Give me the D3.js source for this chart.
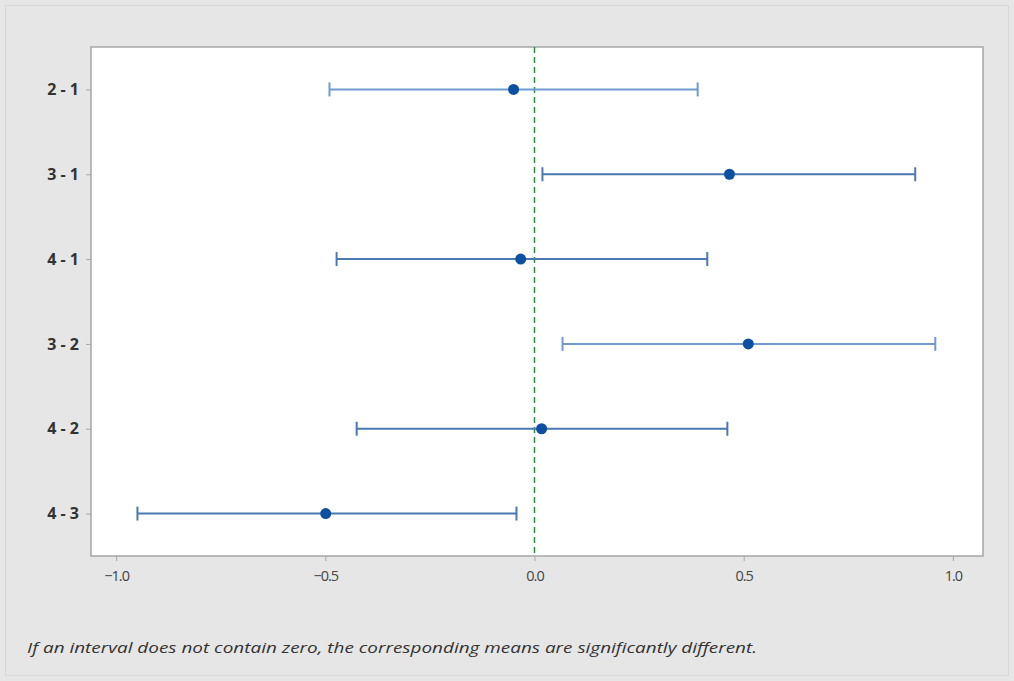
<!DOCTYPE html>
<html><head><meta charset="utf-8">
<script src="https://cdn.jsdelivr.net/npm/d3@7"></script>
<style>body{margin:0;background:#e6e6e6;}svg{display:block;}</style>
</head><body>
<svg id="c" width="1014" height="681"></svg>
<script>
const categories = ["2 - 1", "3 - 1", "4 - 1", "3 - 2", "4 - 2", "4 - 3"];
const centers = [-0.05, 0.466, -0.033, 0.511, 0.017, -0.499];
const lowers  = [-0.49, 0.019, -0.473, 0.067, -0.425, -0.949];
const uppers  = [0.39, 0.91, 0.413, 0.958, 0.461, -0.043];
const lineColors = ["#6f9bd0", "#4a78b0", "#4a78b0", "#6f9bd0", "#4a78b0", "#4a78b0"];
const xTicks = [-1.0, -0.5, 0.0, 0.5, 1.0];
const footnote = "If an interval does not contain zero, the corresponding means are significantly different.";

const svg = d3.select("#c");
svg.append("rect").attr("x",0).attr("y",0).attr("width",1014).attr("height",681).attr("fill","#e6e6e6");
svg.append("rect").attr("x",5.5).attr("y",5.5).attr("width",1003).attr("height",670)
  .attr("fill","none").attr("stroke","#d8d8d8");

const L=91, T=47, R=983, B=556;
const x = d3.scaleLinear().domain([-1.06, 1.072]).range([L, R]);
const y = d3.scalePoint().domain(categories).range([T, B]).padding(0.5);

svg.append("rect").attr("x",L).attr("y",T).attr("width",R-L).attr("height",B-T)
  .attr("fill","#ffffff").attr("stroke","#a6a6a6").attr("stroke-width",1.5);

// x axis
const xa = svg.append("g").attr("transform",`translate(0,${B})`)
  .call(d3.axisBottom(x).tickValues(xTicks).tickFormat(d3.format(".1f")).tickSize(5).tickSizeOuter(0));
xa.select(".domain").remove();
xa.selectAll(".tick line").attr("stroke","#a6a6a6");
xa.selectAll(".tick text").attr("font-family","'Open Sans', sans-serif").attr("font-size",14.5)
  .attr("fill","#444").attr("y",12).attr("dy","0.9em").attr("letter-spacing","-1px");

// y axis
const ya = svg.append("g").attr("transform",`translate(${L},0)`)
  .call(d3.axisLeft(y).tickSize(5).tickSizeOuter(0));
ya.select(".domain").remove();
ya.selectAll(".tick line").attr("stroke","#a6a6a6");
ya.selectAll(".tick text").attr("font-family","'Open Sans', sans-serif").attr("font-size",16)
  .attr("font-weight","700").attr("fill","#333").attr("x",-12);

// zero reference line
svg.append("line").attr("x1",x(0)).attr("x2",x(0)).attr("y1",T).attr("y2",B)
  .attr("stroke","#2e8b3e").attr("stroke-width",1.5).attr("stroke-dasharray","6,4");

const g = svg.append("g");
categories.forEach((c,i)=>{
  const yy = y(c);
  g.append("line").attr("x1",x(lowers[i])).attr("x2",x(uppers[i])).attr("y1",yy).attr("y2",yy)
    .attr("stroke",lineColors[i]).attr("stroke-width",2);
  [lowers[i], uppers[i]].forEach(v=>{
    g.append("line").attr("x1",x(v)).attr("x2",x(v)).attr("y1",yy-7).attr("y2",yy+7)
      .attr("stroke",lineColors[i]).attr("stroke-width",2);
  });
  g.append("circle").attr("cx",x(centers[i])).attr("cy",yy).attr("r",5.5).attr("fill","#0d4fa0");
});

svg.append("text").attr("x",27).attr("y",653).attr("font-family","'Open Sans', sans-serif")
  .attr("font-style","italic").attr("font-size",15).attr("fill","#333")
  .attr("textLength",730).attr("lengthAdjust","spacingAndGlyphs")
  .text(footnote);
</script>
</body></html>
